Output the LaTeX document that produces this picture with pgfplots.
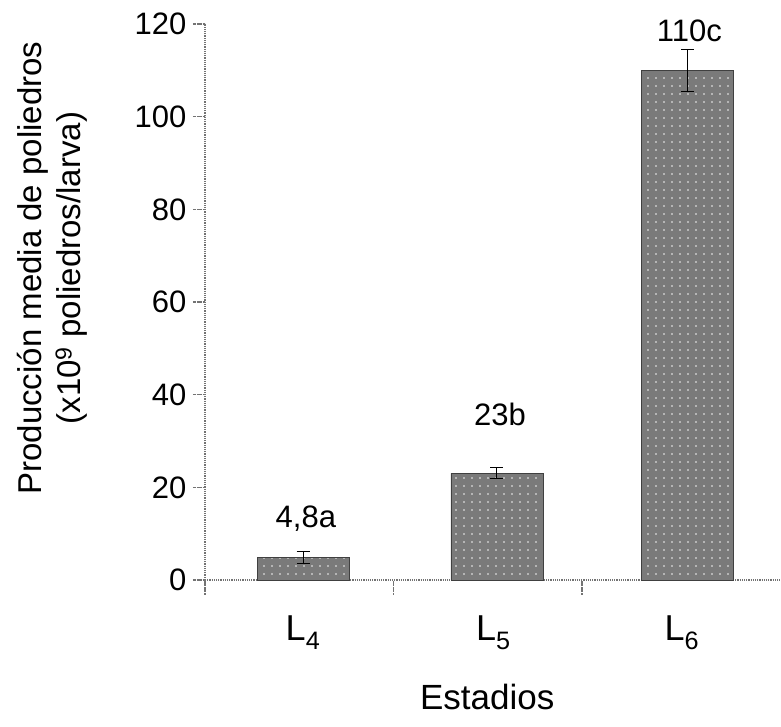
\documentclass[border=0pt]{standalone}
\usepackage{fontspec}
\setmainfont{Liberation Sans}
\usepackage{pgfplots}
\pgfplotsset{compat=1.18}
\usetikzlibrary{patterns.meta}
\begin{document}
\begin{tikzpicture}[x=1pt,y=1pt]
\useasboundingbox (0,0) rectangle (781,726);
\begin{axis}[
  at={(205pt,146pt)}, anchor=south west,
  scale only axis, width=576pt, height=556pt,
  xmin=-0.5, xmax=2.556, ymin=0, ymax=120,
  axis lines*=left,
  axis line style={black!55, densely dotted, line width=1.2pt},
  ytick={0,20,...,120},
  xtick={0.02,1.03,2.03},
  xticklabels={L\textsubscript{4},L\textsubscript{5},L\textsubscript{6}},
  minor xtick={-0.5,0.5,1.5},
  tick align=outside,
  major tick length=12pt,
  minor tick length=14pt,
  tick style={black!55, densely dotted, line width=1.2pt},
  major x tick style={draw=none},
  /pgf/number format/assume math mode=true,
  yticklabel style={font=\fontsize{31}{31}\selectfont, xshift=-3pt},
  xticklabel style={font=\fontsize{36}{36}\selectfont, yshift=-20pt},
  ylabel={Producción media de poliedros\\(x10\textsuperscript{9} poliedros/larva)},
  ylabel style={at={(axis description cs:-0.265,0.561)}, anchor=center, align=center, font=\fontsize{33}{39}\selectfont},
  xlabel={Estadios},
  xlabel style={at={(axis description cs:0.49,-0.21)}, anchor=center, font=\fontsize{35}{35}\selectfont},
  ybar, bar width=0.488,
  clip=false,
]
\addplot[ybar, fill={rgb,255:red,122;green,122;blue,122}, draw=black!75, line width=0.9pt,
  postaction={pattern={Dots[distance=8pt, radius=0.8pt]}, pattern color=white!90!gray},
  error bars/.cd, y dir=both, y explicit,
  error bar style={black, line width=1pt, solid},
  error mark options={rotate=90, black, mark size=6.5pt, line width=1pt, solid}]
  coordinates {(0.02,4.8) +- (0,1.3) (1.049,23) +- (0,1.2) (2.06,110) +- (0,4.5)};
\node[anchor=base, font=\fontsize{31}{31}\selectfont] at (axis cs:0.035,11.4) {4,8a};
\node[anchor=base, font=\fontsize{31}{31}\selectfont] at (axis cs:1.065,33.45) {23b};
\node[anchor=base, font=\fontsize{31}{31}\selectfont] at (axis cs:2.07,116.2) {110c};
\end{axis}
\end{tikzpicture}
\end{document}
